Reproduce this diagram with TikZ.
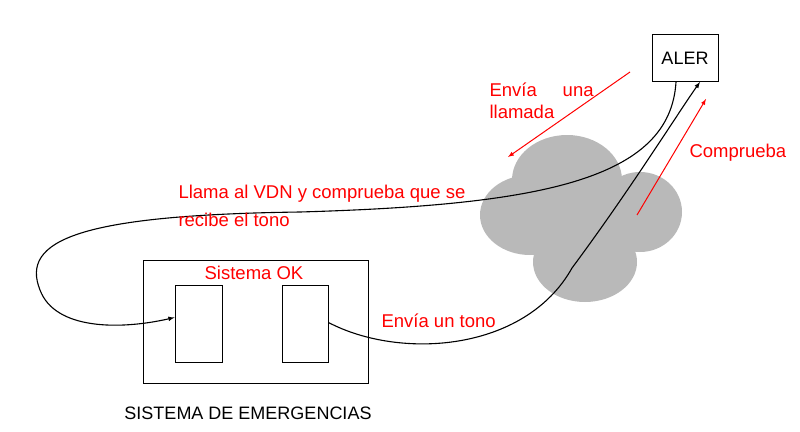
\documentclass[tikz,border=0pt]{standalone}
\usepackage{fontspec}
\setmainfont{Liberation Sans}
\usetikzlibrary{positioning}
\begin{document}
\begin{tikzpicture}[x=1pt,y=-1pt,
    box/.style={draw,line width=1pt,inner sep=0pt},
    rlabel/.style={text=red,font=\fontsize{18.5}{22}\selectfont},
    redarrow/.style={red,line width=1pt,-latex},
    path/.style={line width=1.1pt,-latex}]
  \useasboundingbox (0,0) rectangle (800,431);
  % cloud
  \fill[gray!55] (567,180) ellipse (55 and 45);
  \fill[gray!55] (530,215) ellipse (50 and 40);
  \fill[gray!55] (640,212) ellipse (42 and 40);
  \fill[gray!55] (585,262) ellipse (52 and 40);
  \fill[gray!55] (580,218) circle (50);
  % boxes
  \node[box,minimum width=66pt,minimum height=47pt,font=\fontsize{18}{21}\selectfont] (aler) at (685,58) {ALER};
  \node[box,minimum width=225pt,minimum height=123pt] (sys) at (255.5,321.5) {};
  \node[box,minimum width=47pt,minimum height=77pt] (left) at (198.5,323.5) {};
  \node[box,minimum width=46pt,minimum height=77pt] (right) at (305,323.5) {};
  \node[rlabel] (ok) at (254,273) {Sistema OK};
  \node[font=\fontsize{18}{21}\selectfont] (name) at (248,413) {SISTEMA DE EMERGENCIAS};
  % connectors
  \draw[path] ([xshift=-9pt]aler.south) .. controls (670,180) and (540,205) .. (300,212)
    .. controls (80,215) and (20,240) .. (40,290)
    .. controls (55,330) and (120,330) .. ([yshift=6pt]left.west);
  \draw[path] ([yshift=1pt]right.east) .. controls (400,360) and (525,352) .. (572,268)
    .. controls (630,190) and (680,110) .. ([xshift=15pt]aler.south);
  \coordinate (a1) at (630,72);
  \coordinate (a2) at (508,157);
  \coordinate (b1) at (637,215);
  \coordinate (b2) at (706,99);
  \draw[redarrow] (a1) -- (a2);
  \draw[redarrow] (b1) -- (b2);
  % labels
  \node[rlabel,align=left,anchor=west] (call) at (486,101) {Envía\hspace{1.4em}una\\llamada};
  \node[rlabel,anchor=west] (check) at (686,153) {Comprueba};
  \node[rlabel,align=left,anchor=west] (vdn) at (175,206) {Llama al VDN y comprueba que se\\[6pt]recibe el tono};
  \node[rlabel,anchor=west] (tone) at (378,321) {Envía un tono};
\end{tikzpicture}
\end{document}
